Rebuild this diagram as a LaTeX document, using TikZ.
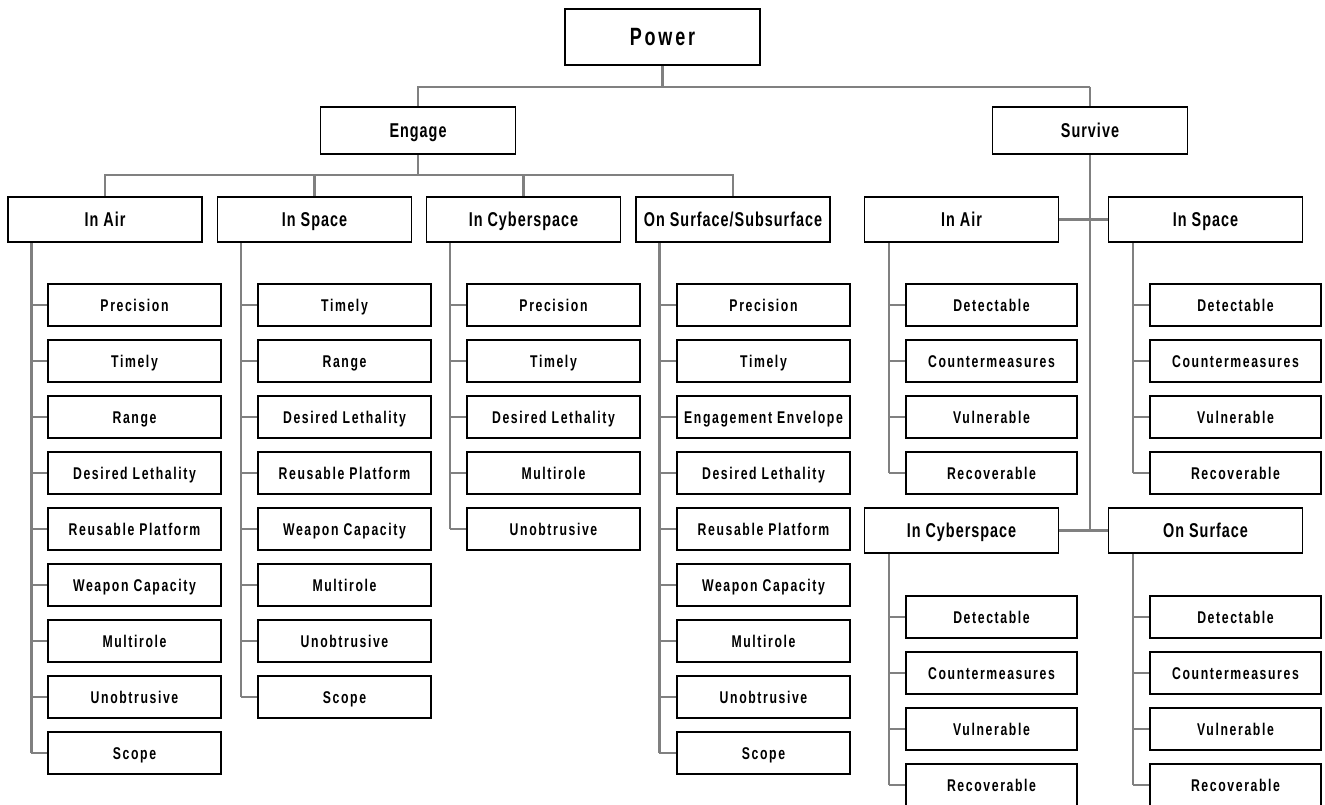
\documentclass[tikz,border=0pt]{standalone}
\usepackage{fontspec}
\usetikzlibrary{backgrounds}
\newfontfamily\leaffam[FakeStretch=0.72,LetterSpace=9.5]{Liberation Sans}
\newfontfamily\headfam[FakeStretch=0.72,LetterSpace=5]{Liberation Sans}
\newfontfamily\topfam[FakeStretch=0.72,LetterSpace=11]{Liberation Sans}
\definecolor{linegray}{RGB}{128,128,128}
\tikzset{
  box/.style={draw=black, line width=1.2pt, fill=white, inner sep=0pt, text=black},
  leaf/.style={box, minimum width=173pt, minimum height=42pt, text height=12.2pt, text depth=0pt, font=\leaffam\bfseries\fontsize{17}{20}\selectfont},
  sleaf/.style={leaf, minimum width=171pt},
  head/.style={box, minimum width=194pt, minimum height=45pt, text height=14.3pt, text depth=0pt, font=\headfam\bfseries\fontsize{20}{24}\selectfont},
  mid/.style={head, minimum width=195pt, minimum height=47pt},
  topbox/.style={box, minimum width=195pt, minimum height=56pt, text height=17.9pt, text depth=0pt, font=\topfam\bfseries\fontsize{25}{30}\selectfont},
  conn/.style={draw=linegray, line width=2.8pt},
  thinconn/.style={draw=linegray, line width=2.2pt},
}
\begin{document}
\begin{tikzpicture}[x=1pt,y=-1pt]
\useasboundingbox (0,0) rectangle (1325,805);
% top levels
\node[topbox] (power) at (662.5,37) {Power};
\node[mid] (eng) at (418,130.5) {Engage};
\node[mid] (surv) at (1090,130.5) {Survive};
\coordinate (pbar) at (662.5,87);
\coordinate (ebar) at (418,175);
% engage children
\node[head] (eair) at (105,219.5) {In Air};
\node[head] (espace) at (314.5,219.5) {In Space};
\node[head] (ecyb) at (523.5,219.5) {In Cyberspace};
\node[head] (esurf) at (733,219.5) {On Surface/Subsurface};
% survive children
\node[head] (sair) at (961.5,219.5) {In Air};
\node[head] (sspace) at (1205.5,219.5) {In Space};
\node[head] (scyb) at (961.5,530.5) {In Cyberspace};
\node[head] (ssurf) at (1205.5,530.5) {On Surface};
% leaf lines
\coordinate (eaL) at ([xshift=24pt]eair.south west);
\coordinate (esL) at ([xshift=24pt]espace.south west);
\coordinate (ecL) at ([xshift=24pt]ecyb.south west);
\coordinate (eoL) at ([xshift=24pt]esurf.south west);
\coordinate (saL) at ([xshift=25pt]sair.south west);
\coordinate (ssL) at ([xshift=25pt]sspace.south west);
\coordinate (scL) at ([xshift=25pt]scyb.south west);
\coordinate (soL) at ([xshift=25pt]ssurf.south west);
% engage leaves
\foreach \t [count=\i] in {Precision,Timely,Range,Desired Lethality,Reusable Platform,Weapon Capacity,Multirole,Unobtrusive,Scope}
  \node[leaf] (ea\i) at (134.5,249+56*\i) {\t};
\foreach \t [count=\i] in {Timely,Range,Desired Lethality,Reusable Platform,Weapon Capacity,Multirole,Unobtrusive,Scope}
  \node[leaf] (es\i) at (344.5,249+56*\i) {\t};
\foreach \t [count=\i] in {Precision,Timely,Desired Lethality,Multirole,Unobtrusive}
  \node[leaf] (ec\i) at (553.5,249+56*\i) {\t};
\foreach \t [count=\i] in {Precision,Timely,Engagement Envelope,Desired Lethality,Reusable Platform,Weapon Capacity,Multirole,Unobtrusive,Scope}
  \node[leaf] (eo\i) at (763.5,249+56*\i) {\t};
% survive leaves
\foreach \t [count=\i] in {Detectable,Countermeasures,Vulnerable,Recoverable}{
  \node[sleaf] (sa\i) at (991.5,249+56*\i) {\t};
  \node[sleaf] (ss\i) at (1235.5,249+56*\i) {\t};
  \node[sleaf] (sc\i) at (991.5,561+56*\i) {\t};
  \node[sleaf] (so\i) at (1235.5,561+56*\i) {\t};
}
\begin{scope}[on background layer]
  % power bar
  \draw[conn] (power.south) -- (pbar);
  \draw[conn] (eng.north) -- (eng.north |- pbar) -- (surv.north |- pbar);
  \draw[thinconn] (surv.north |- pbar) -- (surv.north);
  % engage bar
  \draw[conn] (eng.south) -- (ebar);
  \draw[conn] (eair.north) -- (eair.north |- ebar) -- (esurf.north |- ebar) -- (esurf.north);
  \draw[conn] (espace.north) -- (espace.north |- ebar);
  \draw[conn] (ecyb.north) -- (ecyb.north |- ebar);
  % survive tree
  \draw[thinconn] (surv.south) -- (surv.south |- scyb.east);
  \draw[conn] (sair.east) -- (sspace.west);
  \draw[conn] (scyb.east) -- (ssurf.west);
  % leaf verticals
  \draw[conn] (eaL) -- (eaL |- ea9.west);
  \draw[conn] (esL) -- (esL |- es8.west);
  \draw[conn] (ecL) -- (ecL |- ec5.west);
  \draw[conn] (eoL) -- (eoL |- eo9.west);
  \draw[conn] (saL) -- (saL |- sa4.west);
  \draw[conn] (ssL) -- (ssL |- ss4.west);
  \draw[conn] (scL) -- (scL |- sc4.west);
  \draw[conn] (soL) -- (soL |- so4.west);
  % stubs
  \foreach \i in {1,...,9} {
    \draw[conn] (ea\i.west) -- (ea\i.west -| eaL);
    \draw[conn] (eo\i.west) -- (eo\i.west -| eoL);
  }
  \foreach \i in {1,...,8}
    \draw[conn] (es\i.west) -- (es\i.west -| esL);
  \foreach \i in {1,...,5}
    \draw[conn] (ec\i.west) -- (ec\i.west -| ecL);
  \foreach \i in {1,...,4} {
    \draw[conn] (sa\i.west) -- (sa\i.west -| saL);
    \draw[conn] (ss\i.west) -- (ss\i.west -| ssL);
    \draw[conn] (sc\i.west) -- (sc\i.west -| scL);
    \draw[conn] (so\i.west) -- (so\i.west -| soL);
  }
\end{scope}
\end{tikzpicture}
\end{document}
